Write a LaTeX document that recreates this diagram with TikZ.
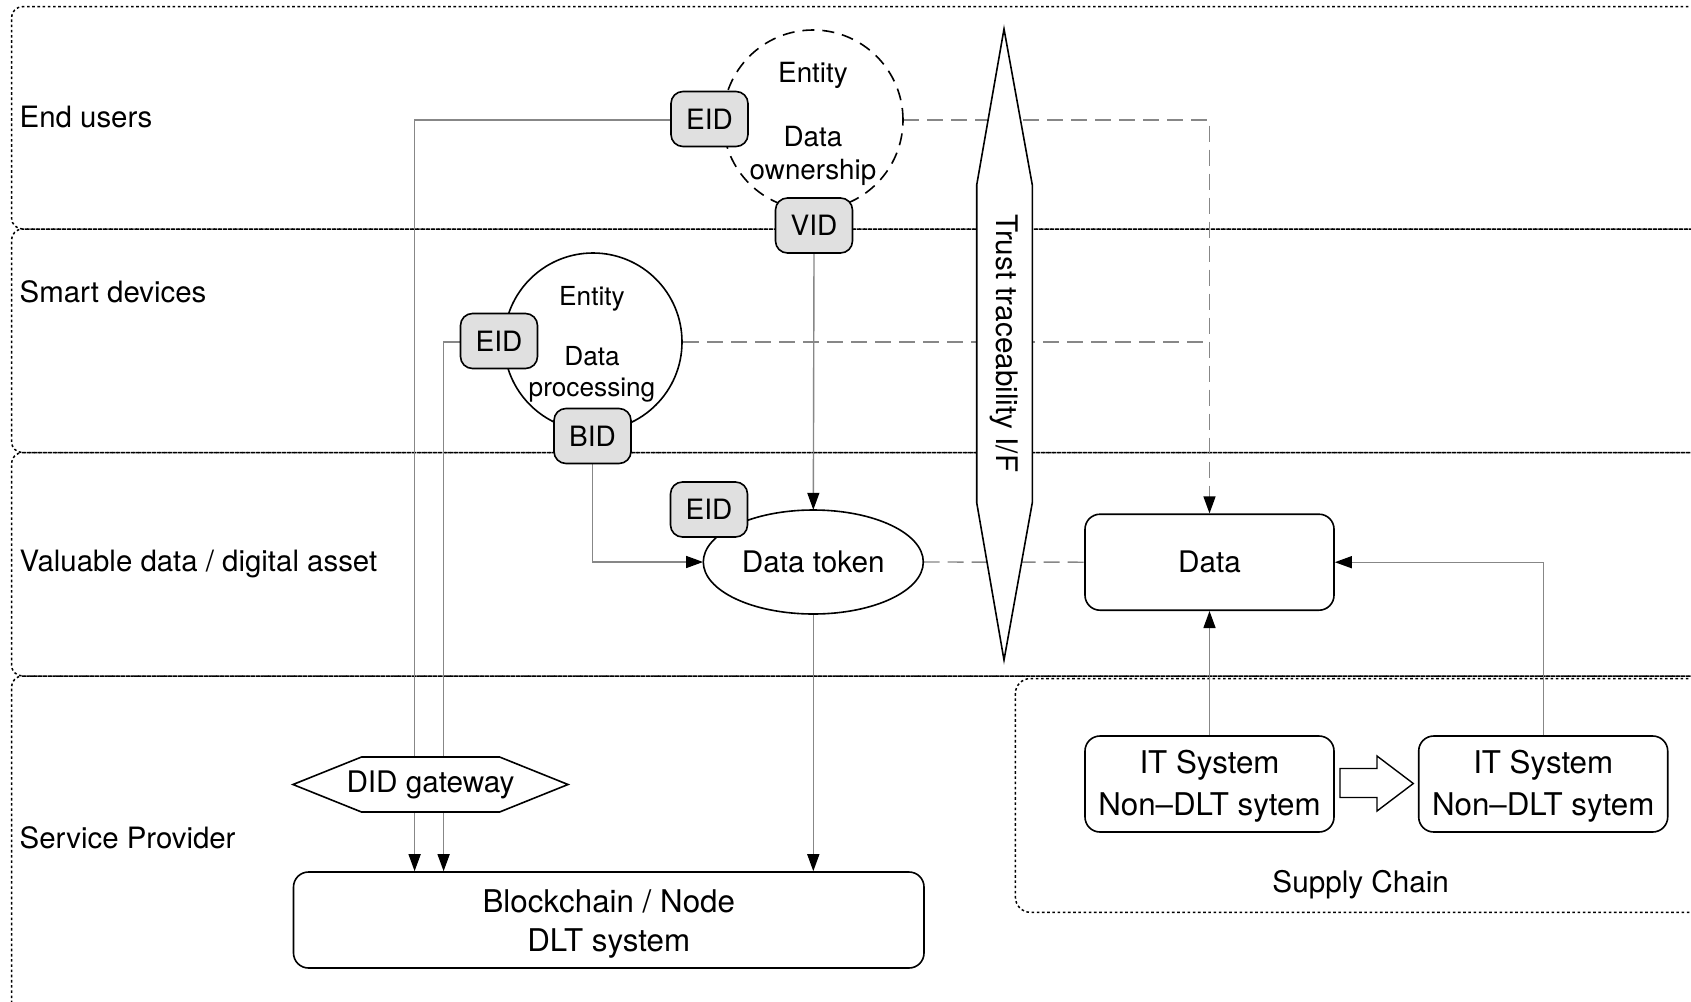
\documentclass[tikz,border=0pt]{standalone}
\usepackage{fontspec}
\setmainfont{TeX Gyre Heros}
\usetikzlibrary{arrows.meta,shapes.geometric,calc}
\begin{document}
\begin{tikzpicture}[x=1pt,y=-1pt,
  lane/.style={draw=black,line width=1.5pt,dash pattern=on 2.6pt off 2.6pt,rounded corners=11pt},
  conn/.style={draw=black!47,line width=1.4pt},
  dconn/.style={draw=black!47,line width=1.4pt,dash pattern=on 16pt off 8pt},
  tip/.style={-{Triangle[width=12pt,length=17pt,fill=black,color=black]}},
  idbox/.style={draw=black,line width=1.6pt,fill=black!12,rounded corners=12pt,minimum width=77pt,minimum height=55pt,inner sep=0pt,font=\fontsize{28}{33}\selectfont},
  sysbox/.style={draw=black,line width=1.6pt,fill=white,rounded corners=15pt,inner sep=0pt,align=center},
  txt/.style={inner sep=0pt,font=\fontsize{29.7}{34}\selectfont},
  bigtxt/.style={inner sep=0pt,font=\fontsize{31.3}{36}\selectfont},
  ctxt/.style={inner sep=0pt,font=\fontsize{27.8}{32}\selectfont},
  stxt/.style={inner sep=0pt,font=\fontsize{26.2}{30}\selectfont},
  lanelabel/.style={inner sep=0pt,anchor=west,font=\fontsize{29.4}{34}\selectfont}
]
\clip (0,0) rectangle (1691,1001);
\fill[white] (0,0) rectangle (1691,1001);
% lanes
\draw[lane] (1730,6.7) -- (11.5,6.7) -- (11.5,229) -- (1730,229);
\draw[lane] (1730,229) -- (11.5,229) -- (11.5,452.6) -- (1730,452.6);
\draw[lane] (1730,452.6) -- (11.5,452.6) -- (11.5,676) -- (1730,676);
\draw[lane] (1730,676) -- (11.5,676) -- (11.5,1012) -- (1730,1012);
% supply chain box
\draw[lane,rounded corners=15pt] (1730,678.5) -- (1015.4,678.5) -- (1015.4,912.3) -- (1730,912.3);
\node[txt] (sc) at (1360.7,884.5) {Supply Chain};
% lane labels
\node[lanelabel] (l1) at (19.5,117) {End users};
\node[lanelabel] (l2) at (19.5,291.5) {Smart devices};
\node[lanelabel] (l3) at (19.5,564) {Valuable data / digital asset};
\node[lanelabel] (l4) at (19.5,838) {Service Provider};

% named anchors
\node[circle,minimum size=180pt,inner sep=0pt] (c1) at (813,120) {};
\node[circle,minimum size=180pt,inner sep=0pt] (c2) at (593,342) {};
\node[ellipse,minimum width=220pt,minimum height=104pt,inner sep=0pt] (tok) at (813.3,562) {};
\node[sysbox,minimum width=249pt,minimum height=96pt] (data) at (1209.5,562.2) {};
\node[sysbox,minimum width=630.5pt,minimum height=96pt] (bc) at (608.75,920) {};
\node[sysbox,minimum width=249pt,minimum height=96pt] (it1) at (1209.5,784) {};
\node[sysbox,minimum width=249pt,minimum height=96pt] (it2) at (1543.2,784) {};
\node[idbox,draw=none,fill=none] (eidA) at (709.5,119) {};
\node[idbox,draw=none,fill=none] (eidB) at (499,341) {};
\node[idbox,draw=none,fill=none] (bid) at (592.5,436) {};
\node[idbox,draw=none,fill=none] (vid) at (814,225.5) {};

% connectors (drawn beneath shapes)
\coordinate (kA) at (414.6,120);
\coordinate (kB) at (443.6,342);
\draw[conn,tip] (eidA.west |- kA) -- (kA) -- (kA |- bc.north);
\draw[conn,tip] (eidB.west |- kB) -- (kB) -- (kB |- bc.north);
\draw[conn,tip] (bid.south) |- (tok.west);
\draw[conn,tip] (vid.south) -- (tok.north);
\draw[conn,tip] (tok.south) -- (tok.south |- bc.north);
\coordinate (kD) at (1209.5,120);
\draw[dconn,tip] (c1.east) -- (kD) -- (data.north);
\draw[dconn] (c2.east) -- (c2.east -| kD);
\draw[dconn] (tok.east) -- (data.west);
\draw[conn,tip] (it1.north) -- (data.south);
\draw[conn,tip] (it2.north) |- (data.east);

% trust shape
\draw[line width=1.6pt,fill=white] (1004,29) -- (1032.3,185) -- (1032.3,502.6) -- (1004,660) -- (976.7,502.6) -- (976.7,185) -- cycle;
\node[txt,rotate=-90] (trust) at (1004.5,343.5) {Trust traceability I/F};

% DID gateway
\draw[line width=1.6pt,fill=white] (293,784.5) -- (361.5,757) -- (499.6,757) -- (568,784.5) -- (499.6,812) -- (361.5,812) -- cycle;
\node[txt] (gw) at (430.5,784.5) {DID gateway};

% circles
\draw[line width=1.6pt,dash pattern=on 12pt off 8pt] (c1) circle[radius=90pt];
\draw[line width=1.6pt] (c2) circle[radius=89pt];
\node[ctxt] (e1) at (813,75) {Entity};
\node[ctxt] (d1a) at (813,137) {Data};
\node[ctxt] (d1b) at (813,172) {ownership};
\node[stxt] (e2) at (592,298.5) {Entity};
\node[stxt] (d2a) at (592,356.5) {Data};
\node[stxt] (d2b) at (592,390) {processing};

% token and boxes
\node[ellipse,draw=black,line width=1.6pt,fill=white,minimum width=220pt,minimum height=104pt,inner sep=0pt,font=\fontsize{29.7}{34}\selectfont] at (tok) {Data token};
\node[idbox] at (eidA) {EID};
\node[idbox] at (eidB) {EID};
\node[idbox] at (bid) {BID};
\node[idbox] at (vid) {VID};
\node[idbox] (eidC) at (709,509.5) {EID};

\node[txt] at (data) {Data};
\node[bigtxt] (bct1) at (608.75,901.5) {Blockchain / Node};
\node[bigtxt] (bct2) at (608.75,943.5) {DLT system};
\node[bigtxt] (it1a) at (1209.5,765) {IT System};
\node[bigtxt] (it1b) at (1209.5,807.5) {Non--DLT sytem};
\node[bigtxt] (it2a) at (1543.2,765) {IT System};
\node[bigtxt] (it2b) at (1543.2,807.5) {Non--DLT sytem};

% hollow block arrow
\draw[line width=1.4pt,fill=white] (1340,768.5) -- (1377,768.5) -- (1377,756) -- (1413.3,783.5) -- (1377,811) -- (1377,797.5) -- (1340,797.5) -- cycle;
\end{tikzpicture}
\end{document}
